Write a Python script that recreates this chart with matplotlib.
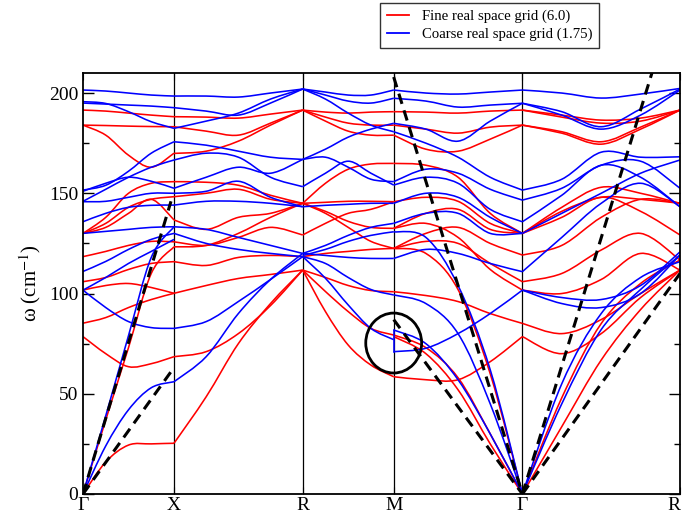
import numpy as np
import matplotlib
matplotlib.use('Agg')
import matplotlib.pyplot as plt
from matplotlib.path import Path
from matplotlib.patches import PathPatch, Ellipse
from matplotlib.lines import Line2D

plt.rcParams['font.family'] = ['Liberation Serif', 'DejaVu Serif']
plt.rcParams['mathtext.fontset'] = 'stix'

# high symmetry path of the simple cubic cell
point_labels = [u'\u0393', 'X', 'R', 'M', u'\u0393', 'R']
kpts = [0.0, 0.5, 1.207, 1.707, 2.414, 3.280]

# frequencies (cm^-1) sampled at 0, 1/4, 1/2, 3/4, 1 of each segment
# --- fine grid (6.0) ---
fine_gx = [
    [191.5, 191, 190, 189, 188.2],
    [184, 183.8, 183.5, 183.3, 183.2],
    [184, 179, 169, 163, 170],
    [130, 138, 150, 155, 155.8],
    [130, 135, 143, 147, 148.3],
    [130, 133, 140, 147, 136.7],
    [118.4, 121, 124, 126, 125.8],
    [105.9, 108, 112, 115, 115.9],
    [101.7, 104, 105, 103, 100.1],
    [85.2, 88, 93, 97, 100.1],
    [78.5, 70, 63.5, 65, 68.5],
    [0, 37, 73, 110, 123.3],
    [0, 16, 24.4, 25, 25.3],
]
fine_xr = [
    [188.2, 188, 187.5, 189.5, 191.5],
    [183.2, 181, 179, 185, 191.5],
    [169.9, 171, 176, 184, 191.5],
    [155.8, 155.5, 154, 149, 145],
    [148.3, 150, 152, 147, 145],
    [136.7, 132, 138, 140, 145],
    [125.8, 124, 128, 133, 129.2],
    [123.3, 124, 130, 138, 145],
    [115.9, 114, 118, 119, 118.4],
    [100.1, 104, 107.5, 109.5, 111.7],
    [68.5, 71, 80, 94, 111.7],
    [25.3, 48.5, 75, 95, 111.7],
]
fine_rm = [
    [191.5, 190.5, 190, 190.5, 190.7],
    [191.5, 188, 185, 184, 184],
    [191.5, 186, 181, 179, 179],
    [145, 155, 162, 164.6, 164.9],
    [145, 145.5, 146, 146, 145.8],
    [145, 140, 133, 126, 122.5],
    [145, 141, 136, 133, 132.5],
    [129.2, 135, 140, 142, 145.8],
    [118.4, 120, 121, 122, 122.5],
    [111.7, 108, 104, 101.5, 100.9],
    [111.7, 101, 91, 82.6, 79.3],
    [111.7, 91, 74.3, 64.3, 58.5],
]
fine_mg = [
    [190.7, 190.5, 190, 191, 191.5],
    [184, 182, 180, 183, 184],
    [179, 172, 171, 177, 184],
    [164.9, 164, 158, 140, 130],
    [145.8, 148, 146, 135, 130],
    [132.5, 140, 142, 132, 130],
    [132.5, 135, 128, 112, 101.7],
    [122.5, 130, 133, 125, 119.2],
    [122.5, 126, 125, 115, 105.9],
    [100.9, 99, 96, 90, 85.1],
    [58.5, 57, 57, 66, 78.5],
    [79.3, 73, 58, 30, 0],
    [78.5, 70, 52, 25, 0],
    [122.5, 120, 102, 60, 0],
]
fine_gr = [
    [191.5, 189, 186.5, 187.5, 191.5],
    [191.5, 188, 185, 186, 191.5],
    [184, 180.7, 175.7, 183, 191.5],
    [184, 180, 174.5, 182, 191.5],
    [130, 143, 153, 150, 145],
    [130, 141, 148, 147, 145],
    [130, 138, 148, 141, 129.2],
    [119.2, 124, 138, 147, 145],
    [105.9, 110, 121.7, 130, 116.7],
    [101.7, 100, 107, 120, 111.7],
    [85.1, 80, 87, 100, 111.7],
    [78.5, 70, 80, 98, 111.7],
    [0, 33.6, 66.8, 92, 111.7],
    [0, 48, 85, 105, 116.7],
]

# --- coarse grid (1.75) ---
coarse_gx = [
    [201.5, 201, 200, 199, 198.5],
    [195.7, 194.8, 190.7, 185.7, 182.4],
    [195, 194.5, 194, 193.5, 192.7],
    [151.6, 154, 161, 170, 175.7],
    [146, 152, 158, 163, 166.6],
    [151, 155, 158, 156, 152.5],
    [145.8, 146, 148, 150, 150],
    [135.8, 140, 143, 144, 144.1],
    [130, 131, 132, 133, 133.3],
    [111, 116, 122, 127, 130],
    [101.7, 108, 115, 121, 127],
    [101.7, 93, 86, 83, 82.6],
    [0, 39, 79, 118, 133.3],
    [0, 24, 42, 53, 56],
]
coarse_xr = [
    [198.5, 198.5, 198, 200, 202],
    [192.7, 191, 189, 195, 202],
    [182.4, 186, 190, 197, 202],
    [175.7, 174, 171, 168, 166.9],
    [166.6, 170, 168, 158, 153.3],
    [152.5, 158, 163, 160, 166.9],
    [150, 151, 156, 148, 143.3],
    [144.1, 146, 146, 145, 143.3],
    [133.3, 132, 128, 124, 120],
    [130, 125, 122, 120, 118.4],
    [82.6, 86, 96, 107, 118.4],
    [56, 68.5, 90, 107, 120],
]
coarse_rm = [
    [202, 200.5, 199, 199, 201.5],
    [202, 199, 196, 195, 197.4],
    [202, 197, 190, 184, 180.7],
    [166.9, 172, 178, 182, 184.9],
    [166.9, 168, 163, 157, 155.8],
    [153.3, 160, 166, 160, 154.1],
    [143.3, 144, 144.5, 145, 145],
    [120, 124, 129, 133, 135],
    [119, 122, 126, 129, 130.8],
    [120, 119, 118, 117.5, 117.5],
    [118.4, 115, 108, 102, 99.3],
    [118.4, 107.6, 94.3, 82.6, 77],
]
coarse_mg = [
    [201.5, 200, 199.5, 200.5, 201.5],
    [197.4, 196, 193, 194, 194.9],
    [184.9, 182, 176, 186, 194.9],
    [180.7, 175, 168, 158, 151.6],
    [155.8, 162, 160, 152, 146.6],
    [154.1, 158, 155, 142, 135.8],
    [145, 150, 148, 138, 130],
    [135, 140, 140, 130, 130],
    [117.5, 122, 120, 115, 110.9],
    [130.8, 128, 104, 62, 0],
    [99.3, 95, 80, 45, 0],
    [81.8, 75, 57, 30, 0],
    [71, 72.7, 80, 90, 101.7],
]
coarse_gr = [
    [201.5, 200, 197.5, 199.5, 202.3],
    [194.9, 190.7, 183.2, 192, 202],
    [194.9, 189, 182, 189, 201.5],
    [151.6, 157, 170.5, 168, 168.2],
    [146.6, 152.5, 164, 166, 152.5],
    [135.8, 149, 164, 158, 143.3],
    [130, 140, 150, 160, 166.6],
    [110.9, 128, 145, 155, 143.3],
    [101.7, 98, 97, 104, 120.8],
    [101.7, 95, 93, 100, 119.2],
    [0, 55, 90, 108, 115.9],
    [0, 45, 82, 102, 119.2],
]

# gap of the coarse bands at M
coarse_step_m = [71, 81.8]

# sound velocity lines (start, end) per segment
sound_gx = [[0, 146], [0, 61]]
sound_mg = [[208, 0], [87, 0]]
sound_gr = [[0, 255.5], [0, 110]]

fine = [fine_gx, fine_xr, fine_rm, fine_mg, fine_gr]
coarse = [coarse_gx, coarse_xr, coarse_rm, coarse_mg, coarse_gr]


def band_path(x, y):
    # Catmull-Rom curve through the sampled points
    pts = np.column_stack([x, y])
    ext = np.vstack([pts[0], pts, pts[-1]])
    verts = [pts[0]]
    codes = [Path.MOVETO]
    for i in range(len(pts) - 1):
        p0, p1, p2, p3 = ext[i], ext[i + 1], ext[i + 2], ext[i + 3]
        verts += [p1 + (p2 - p0) / 6.0, p2 - (p3 - p1) / 6.0, p2]
        codes += [Path.CURVE4] * 3
    return Path(verts, codes)


fig = plt.figure(figsize=(6.83, 5.23), dpi=100)
ax = fig.add_axes([83 / 683., 29 / 523., 597 / 683., 421 / 523.])

for bands, col in [(fine, 'red'), (coarse, 'blue')]:
    for s, seg in enumerate(bands):
        xs = np.linspace(kpts[s], kpts[s + 1], 5)
        for b in seg:
            ax.add_patch(PathPatch(band_path(xs, b), fill=False,
                                   edgecolor=col, lw=1.15, zorder=2))

ax.plot([kpts[3], kpts[3]], coarse_step_m, color='blue', lw=1.15, zorder=2)

# vertical lines at the symmetry points
for k in kpts[1:-1]:
    ax.axvline(k, color='black', lw=0.9, zorder=1)

dash = dict(color='black', lw=2.2, ls=(0, (3.5, 2.2)), zorder=3)
for w in sound_gx:
    ax.plot([kpts[0], kpts[0] + 0.967 * (kpts[1] - kpts[0])], w, **dash)
for w in sound_mg:
    ax.plot([kpts[3], kpts[4]], w, **dash)
for w in sound_gr:
    ax.plot([kpts[4], kpts[5]], w, **dash)

ax.add_patch(Ellipse((kpts[3], 75.3), 0.307, 29.9, fill=False,
                     edgecolor='black', lw=2.0, zorder=4))

ax.set_xlim(kpts[0], kpts[-1])
ax.set_ylim(0, 210)
ax.set_xticks(kpts)
ax.set_xticklabels(point_labels, fontsize=14)
ax.get_xticklabels()[-1].set_horizontalalignment('right')
ax.set_yticks(np.arange(0, 201, 50))
ax.set_yticks(np.arange(0, 210, 25), minor=True)
ax.tick_params(axis='y', which='both', direction='in', right=True, labelsize=14)
ax.tick_params(axis='y', which='major', length=8, width=1)
ax.tick_params(axis='y', which='minor', length=4, width=1)
ax.tick_params(axis='x', direction='in', top=True, length=5, pad=2)
for sp in ax.spines.values():
    sp.set_linewidth(1.3)
ax.set_ylabel(u'\u03c9 (cm$^{-1}$)', fontsize=15, labelpad=4)

handles = [Line2D([], [], color='red', lw=1.3),
           Line2D([], [], color='blue', lw=1.3)]
leg = fig.legend(handles, ['Fine real space grid (6.0)',
                           'Coarse real space grid (1.75)'],
                 loc='upper left', bbox_to_anchor=(380 / 683., 1 - 3 / 523.),
                 fontsize=10.6, frameon=True, fancybox=False, edgecolor='black',
                 handlelength=1.5, handletextpad=0.9, borderpad=0.45,
                 labelspacing=0.3, borderaxespad=0)
leg.get_frame().set_linewidth(1.0)

fig.savefig('out.png', dpi=100)
